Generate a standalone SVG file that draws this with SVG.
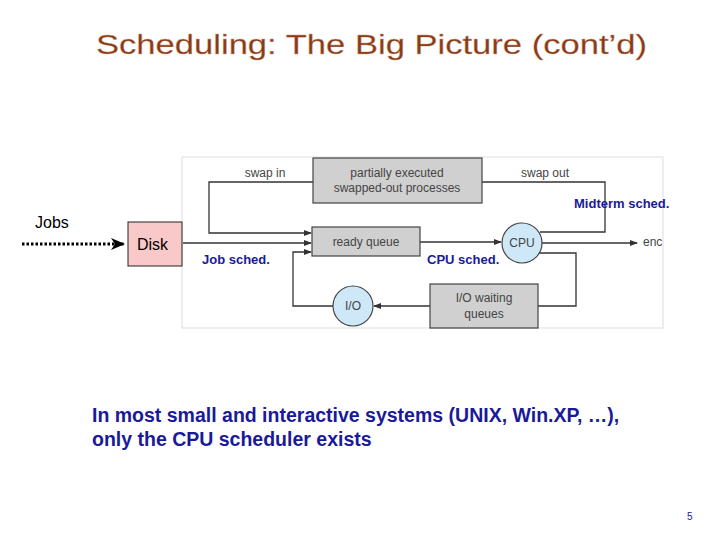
<svg xmlns="http://www.w3.org/2000/svg" width="720" height="540" viewBox="0 0 720 540">
<defs>
<style>
.t{font-family:"Liberation Sans",Arial,sans-serif}
.g{font-family:"Liberation Sans",Arial,sans-serif;font-size:12px;fill:#444}
.b{font-family:"Liberation Sans",Arial,sans-serif;font-size:13px;fill:#1a1a99;font-weight:bold}
.ln{fill:none;stroke:#333;stroke-width:1.3}
.box{fill:#d0d0d0;stroke:#444;stroke-width:1.2}
.cir{fill:#cfe8f7;stroke:#444;stroke-width:1.2}
</style>
<marker id="a" markerWidth="8" markerHeight="8" refX="7" refY="4" orient="auto" markerUnits="userSpaceOnUse"><path d="M0,1 L8,4 L0,7 Z" fill="#333"/></marker>
<marker id="d" markerWidth="14" markerHeight="14" refX="13" refY="7" orient="auto" markerUnits="userSpaceOnUse"><path d="M0,1 L14,7 L0,13 L4,7 Z" fill="#000"/></marker>
</defs>
<rect width="720" height="540" fill="#fff"/>
<text x="96" y="54" class="t" font-size="27" fill="#8b3a12" textLength="551" lengthAdjust="spacingAndGlyphs" stroke="#c8a090" stroke-width="0.3">Scheduling: The Big Picture (cont’d)</text>
<rect x="182" y="157" width="481" height="171" fill="none" stroke="#ddd"/>
<g id="connectors">
<path class="ln" d="M313,182 H209 V233 H311" marker-end="url(#a)"/>
<path class="ln" d="M482,182 H605 V232 H540"/>
<path class="ln" d="M183,243 H311" marker-end="url(#a)"/>
<path class="ln" d="M333,306 H293 V252 H311" marker-end="url(#a)"/>
<path class="ln" d="M420,242 H501" marker-end="url(#a)"/>
<path class="ln" d="M542,243 H637" marker-end="url(#a)"/>
<path class="ln" d="M538,253 H576 V306 H538"/>
<path class="ln" d="M430,306 H374" marker-end="url(#a)"/>
<path d="M22,244 H124" stroke="#000" stroke-width="3" stroke-dasharray="2.5,2" marker-end="url(#d)" fill="none"/>
</g>
<g id="swapped"><rect class="box" x="313" y="158" width="169" height="45"/>
<text x="397" y="177" class="g" text-anchor="middle">partially executed</text>
<text x="397" y="192" class="g" text-anchor="middle">swapped-out processes</text></g>
<text x="265" y="177" class="g" text-anchor="middle">swap in</text>
<text x="545" y="177" class="g" text-anchor="middle">swap out</text>
<g id="ready"><rect class="box" x="312" y="227" width="108" height="29"/>
<text x="366" y="246" class="g" text-anchor="middle">ready queue</text></g>
<g id="cpu"><circle class="cir" cx="522" cy="243" r="20"/>
<text x="522" y="247" class="g" text-anchor="middle">CPU</text></g>
<g id="io"><circle class="cir" cx="353" cy="306" r="20"/>
<text x="353" y="310" class="g" text-anchor="middle">I/O</text></g>
<g id="iowait"><rect class="box" x="430" y="284" width="108" height="44"/>
<text x="484" y="302" class="g" text-anchor="middle">I/O waiting</text>
<text x="484" y="318" class="g" text-anchor="middle">queues</text></g>
<text x="643" y="246" class="g">enc</text>
<g id="disk"><rect x="128" y="222" width="54" height="44" fill="#f9c8c8" stroke="#222"/>
<text x="137" y="250" class="t" font-size="16">Disk</text></g>
<text x="35" y="228" class="t" font-size="16">Jobs</text>
<text x="574" y="208" class="b">Midterm sched.</text>
<text x="202" y="264" class="b">Job sched.</text>
<text x="427" y="264" class="b">CPU sched.</text>
<text x="92" y="422" class="t" font-size="19.5" font-weight="bold" fill="#1a1a99">In most small and interactive systems (UNIX, Win.XP, …),</text>
<text x="92" y="446" class="t" font-size="19.5" font-weight="bold" fill="#1a1a99">only the CPU scheduler exists</text>
<text x="687" y="520" class="t" font-size="10" fill="#1a1a99">5</text>
</svg>
